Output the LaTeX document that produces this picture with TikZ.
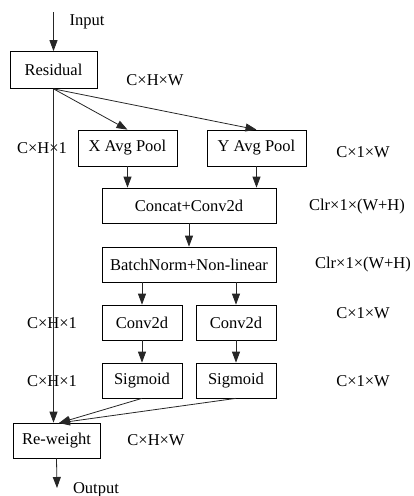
\documentclass[tikz,border=0pt]{standalone}
\usepackage{fontspec}
\setmainfont{Liberation Serif}
\usetikzlibrary{arrows.meta}
\begin{document}
\begin{tikzpicture}[x=1pt,y=-1pt,
  every node/.style={font=\fontsize{16.5}{19}\selectfont, inner sep=0pt},
  box/.style={draw, line width=0.7pt, minimum height=35pt, align=center},
  lbl/.style={},
  conn/.style={line width=0.8pt, draw=black!85, -{Triangle[length=11pt,width=8pt]}}]
\useasboundingbox (0,0) rectangle (413,496);
\node[box, minimum width=87pt, minimum height=37pt] (res) at (53.5,70) {Residual};
\node[box, minimum width=99pt, minimum height=36pt] (xp) at (127.5,148) {X Avg Pool};
\node[box, minimum width=99pt, minimum height=36pt] (yp) at (256.5,148) {Y Avg Pool};
\node[box, minimum width=174pt] (cat) at (189,205.5) {Concat+Conv2d};
\node[box, minimum width=174pt] (bn) at (189,264.5) {BatchNorm+Non-linear};
\node[box, minimum width=80pt] (c1) at (142,322.5) {Conv2d};
\node[box, minimum width=80pt] (c2) at (236,322.5) {Conv2d};
\node[box, minimum width=80pt] (s1) at (142,380.5) {Sigmoid};
\node[box, minimum width=80pt] (s2) at (236,380.5) {Sigmoid};
\node[box, minimum width=87pt] (rw) at (56.5,440.5) {Re-weight};
\coordinate (in) at (53.5,12);
\coordinate (out) at (57,488);
\coordinate (rwin) at (59,423);
\node[lbl] (tin) at (87,22) {Input};
\node[lbl] (tout) at (96,490) {Output};
\node[lbl] (l1) at (155,80) {C×H×W};
\node[lbl] (l2) at (42,148) {C×H×1};
\node[lbl] (l3) at (363,152) {C×1×W};
\node[lbl] (l4) at (357,207) {Clr×1×(W+H)};
\node[lbl] (l5) at (363,265) {Clr×1×(W+H)};
\node[lbl] (l6) at (52,323) {C×H×1};
\node[lbl] (l7) at (363,313) {C×1×W};
\node[lbl] (l8) at (52,381) {C×H×1};
\node[lbl] (l9) at (363,381) {C×1×W};
\node[lbl] (l10) at (156,440) {C×H×W};
\draw[conn] (in) -- (res.north);
\draw[conn] (res.south) -- (xp.north);
\draw[conn] (res.south) -- (yp.north);
\draw[conn] (xp.south) -- (xp.south |- cat.north);
\draw[conn] (yp.south) -- (yp.south |- cat.north);
\draw[conn] (cat.south) -- (bn.north);
\draw[conn] (c1.north |- bn.south) -- (c1.north);
\draw[conn] (c2.north |- bn.south) -- (c2.north);
\draw[conn] (c1.south) -- (s1.north);
\draw[conn] (c2.south) -- (s2.north);
\draw[conn] (res.south) -- (res.south |- rw.north);
\draw[conn] (s1.south) -- (rwin);
\draw[conn] (s2.south) -- (rwin);
\draw[conn] (rw.south) -- (out);
\end{tikzpicture}
\end{document}
